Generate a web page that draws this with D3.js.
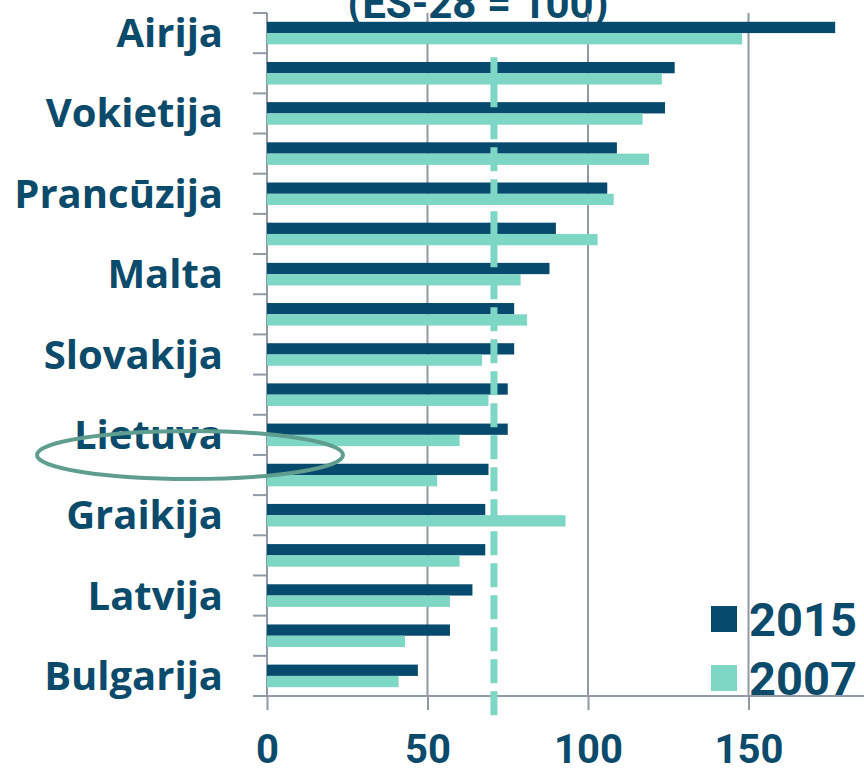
<!DOCTYPE html>
<html>
<head>
<meta charset="utf-8">
<script src="https://cdn.jsdelivr.net/npm/d3@7"></script>
<style>
  body { margin: 0; background: #fff; }
  svg { display: block; }
</style>
</head>
<body>
<script>
// Data
let countries = ["Airija", "Austrija", "Vokietija", "Suomija", "Prancūzija", "Ispanija", "Malta", "Portugalija",
  "Slovakija", "Estija", "Lietuva", "Lenkija", "Graikija", "Vengrija", "Latvija", "Rumunija", "Bulgarija"];
let years = ["2015", "2007"];
let values2015 = [177, 127, 124, 109, 106, 90, 88, 77, 77, 75, 75, 69, 68, 68, 64, 57, 47];
let values2007 = [148, 123, 117, 119, 108, 103, 79, 81, 67, 69, 60, 53, 93, 60, 57, 43, 41];
let xTicks = [0, 50, 100, 150];
let refValue = 70.7;
let title = "(ES-28 = 100)";
let highlighted = "Lietuva";

function drawChart() {
  let width = 864;
  let height = 771;
  let dark = "#064a6e";
  let light = "#7ed6c5";
  let grid = "#8f9aa6";
  let textColor = "#0a4a6b";

  let svg = d3.select("body")
    .append("svg")
    .attr("width", width)
    .attr("height", height);

  let x = d3.scaleLinear()
    .domain([0, 200])
    .range([267, 909]);

  let y = d3.scaleBand()
    .domain(countries)
    .range([13, 696]);

  let ySub = d3.scaleBand()
    .domain(years)
    .range([0, y.step()])
    .paddingInner(0)
    .paddingOuter(0.78);

  let [top, bottom] = y.range();

  // title (cut off at the top in the original)
  svg.append("text")
    .attr("x", 478)
    .attr("y", 18)
    .attr("text-anchor", "middle")
    .style("font-family", "Roboto")
    .style("font-weight", "bold")
    .style("font-size", "42px")
    .style("fill", textColor)
    .text(title);

  // vertical gridlines
  svg.selectAll(".grid")
    .data(xTicks.filter(d => d > 0))
    .enter()
    .append("line")
    .attr("x1", d => x(d))
    .attr("x2", d => x(d))
    .attr("y1", top)
    .attr("y2", bottom)
    .style("stroke", grid)
    .style("stroke-width", 2);

  // x axis
  let xAxis = svg.append("g")
    .attr("transform", `translate(0,${bottom})`)
    .call(d3.axisBottom(x).tickValues(xTicks).tickSize(14).tickPadding(25));
  xAxis.select(".domain").remove();
  xAxis.selectAll("line").style("stroke", grid).style("stroke-width", 2);
  xAxis.selectAll("text")
    .style("font-family", "Roboto")
    .style("font-weight", "bold")
    .style("font-size", "40px")
    .style("fill", textColor);

  svg.append("line")
    .attr("x1", x(0) - 14)
    .attr("x2", width)
    .attr("y1", bottom)
    .attr("y2", bottom)
    .style("stroke", grid)
    .style("stroke-width", 2);

  // y axis
  svg.append("line")
    .attr("x1", x(0))
    .attr("x2", x(0))
    .attr("y1", top)
    .attr("y2", bottom)
    .style("stroke", grid)
    .style("stroke-width", 2);

  svg.selectAll(".ytick")
    .data(countries)
    .enter()
    .append("line")
    .attr("x1", x(0) - 14)
    .attr("x2", x(0))
    .attr("y1", d => y(d))
    .attr("y2", d => y(d))
    .style("stroke", grid)
    .style("stroke-width", 2);

  // only every other label is shown
  svg.selectAll(".label")
    .data(countries.filter((d, i) => i % 2 == 0))
    .enter()
    .append("text")
    .attr("x", x(0) - 44)
    .attr("y", d => y(d) + y.step() / 2 + 14)
    .attr("text-anchor", "end")
    .style("font-family", "Open Sans")
    .style("font-weight", "bold")
    .style("font-size", "40px")
    .style("fill", textColor)
    .text(d => d);

  // bars
  let rows = countries.map((c, i) => ({country: c, "2015": values2015[i], "2007": values2007[i]}));
  let colors = {"2015": dark, "2007": light};

  for (let yr of years) {
    svg.selectAll(".bar" + yr)
      .data(rows)
      .enter()
      .append("rect")
      .attr("x", x(0))
      .attr("y", d => y(d.country) + ySub(yr))
      .attr("width", d => x(d[yr]) - x(0))
      .attr("height", ySub.bandwidth())
      .style("fill", colors[yr]);
  }

  // reference dashed line
  svg.append("line")
    .attr("x1", x(refValue))
    .attr("x2", x(refValue))
    .attr("y1", y(countries[1]) + 4)
    .attr("y2", bottom + 20)
    .style("stroke", light)
    .style("stroke-width", 7)
    .style("stroke-dasharray", "24,8")
    .style("stroke-dashoffset", 6);

  // highlight ellipse
  svg.append("ellipse")
    .attr("cx", 190)
    .attr("cy", y(highlighted) + y.step())
    .attr("rx", 153)
    .attr("ry", 24)
    .style("fill", "none")
    .style("stroke", "#5f9e8f")
    .style("stroke-width", 4);

  // legend
  let legend = svg.selectAll(".legend")
    .data(years)
    .enter()
    .append("g")
    .attr("transform", (d, i) => `translate(711,${606 + i * 59})`);

  legend.append("rect")
    .attr("width", 26)
    .attr("height", 26)
    .style("fill", d => colors[d]);

  legend.append("text")
    .attr("x", 38)
    .attr("y", 30)
    .style("font-family", "Roboto")
    .style("font-weight", "bold")
    .style("font-size", "47px")
    .style("fill", textColor)
    .text(d => d);
}

drawChart();
</script>
</body>
</html>
